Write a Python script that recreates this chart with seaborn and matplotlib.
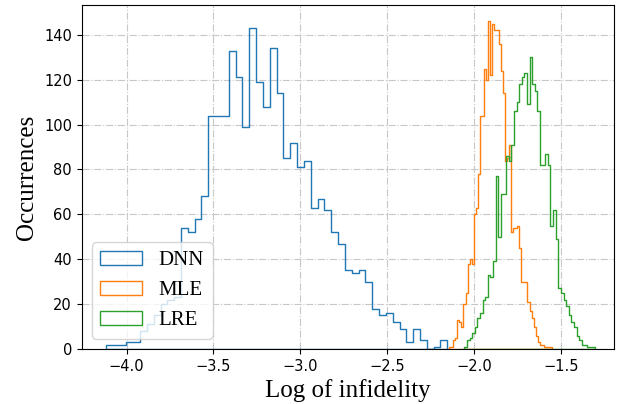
import numpy as np
import matplotlib
matplotlib.use("Agg")
import matplotlib.pyplot as plt
import seaborn as sns

# ---- data ----
dnn_range = (-4.119, -2.154)
dnn_counts = [2, 2, 2, 3, 3, 8, 11, 15, 20, 22,
              23, 54, 52, 58, 68, 104, 104, 104, 133, 121,
              99, 143, 119, 108, 134, 114, 85, 92, 81, 84,
              63, 67, 62, 52, 47, 35, 34, 35, 30, 18,
              15, 16, 12, 9, 3, 9, 4, 0, 1, 4]

mle_range = (-2.144, -1.550)
mle_counts = [1, 1, 4, 5, 13, 12, 10, 20, 25, 38,
              40, 38, 60, 63, 78, 104, 104, 125, 120, 146,
              122, 145, 142, 142, 136, 124, 114, 84, 85, 91,
              52, 54, 54, 55, 45, 30, 30, 30, 21, 17,
              14, 10, 6, 3, 2, 2, 1, 1, 1, 1]

lre_range = (-2.056, -1.305)
lre_counts = [1, 4, 5, 7, 10, 14, 16, 22, 23, 33,
              32, 39, 77, 50, 69, 69, 86, 84, 91, 106,
              110, 118, 121, 123, 109, 130, 118, 115, 106, 82,
              82, 87, 82, 55, 62, 49, 27, 25, 22, 19,
              15, 12, 10, 6, 4, 2, 2, 1, 1, 1]

series = [("DNN", dnn_range, dnn_counts, "#1f77b4"),
          ("MLE", mle_range, mle_counts, "#ff7f0e"),
          ("LRE", lre_range, lre_counts, "#2ca02c")]

fig = plt.figure(figsize=(6.21, 4.04), dpi=100)
ax = fig.add_axes([0.1316, 0.1361, 0.8576, 0.8515])

for name, (lo, hi), counts, color in series:
    n = len(counts)
    edges = np.linspace(lo, hi, n + 1)
    centers = (edges[:-1] + edges[1:]) / 2
    sns.histplot(x=centers, weights=counts, bins=n, binrange=(lo, hi),
                 element="step", fill=True, color=color, facecolor="none",
                 edgecolor=color, linewidth=1.0, label=name, ax=ax)

ax.set_xlim(-4.258, -1.193)
ax.grid(True, linestyle="-.", color="#c8c8c8", linewidth=0.8)
ax.set_axisbelow(True)
ax.set_xticks([-4.0, -3.5, -3.0, -2.5, -2.0, -1.5])
ax.set_yticks([0, 20, 40, 60, 80, 100, 120, 140])
ax.tick_params(labelsize=10.5)
ax.set_xlabel("Log of infidelity", family="Liberation Serif", fontsize=18)
ax.set_ylabel("Occurrences", family="Liberation Serif", fontsize=18)
ax.legend(loc="lower left", prop={"family": "Liberation Serif", "size": 15})

fig.savefig("out.png", dpi=100)
